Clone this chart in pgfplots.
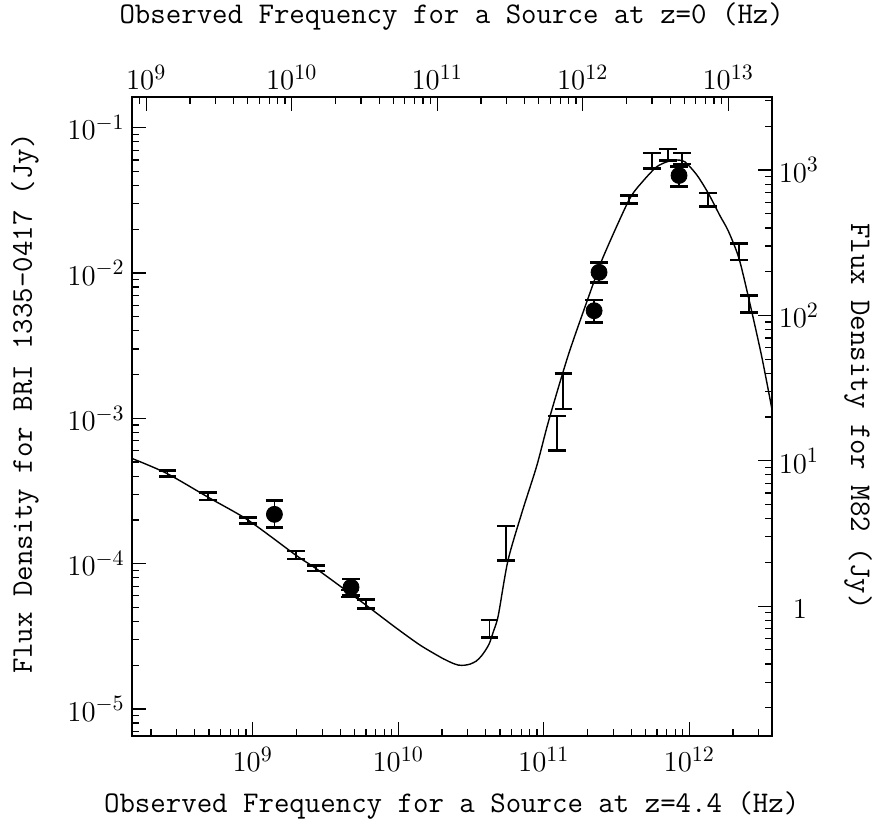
\documentclass[border=0pt]{standalone}
\usepackage{pgfplots}
\pgfplotsset{compat=1.18}
\usepackage{pgfplotstable}

\pgfplotstableread{
x y lo hi
2.60e8 4.156e-4 3.964e-4 4.358e-4
4.95e8 2.90e-4 2.74e-4 3.076e-4
9.28e8 1.99e-4 1.894e-4 2.083e-4
1.975e9 1.15e-4 1.075e-4 1.221e-4
2.71e9 9.28e-5 8.895e-5 9.672e-5
4.66e9 6.23e-5 5.891e-5 6.580e-5
5.98e9 5.27e-5 4.909e-5 5.660e-5
4.23e10 3.57e-5 3.110e-5 4.090e-5
5.48e10 1.38e-4 1.047e-4 1.815e-4
1.228e11 7.88e-4 5.984e-4 1.037e-3
1.364e11 1.54e-3 1.159e-3 2.040e-3
3.86e11 3.22e-2 3.018e-2 3.425e-2
5.53e11 5.93e-2 5.254e-2 6.696e-2
7.12e11 6.5e-2 5.928e-2 7.135e-2
8.92e11 6.14e-2 5.625e-2 6.696e-2
1.340e12 3.19e-2 2.859e-2 3.553e-2
2.20e12 1.40e-2 1.229e-2 1.601e-2
2.58e12 6.13e-3 5.346e-3 7.023e-3
}\mzdata

\pgfplotstableread{
x y lo hi
1.41e9 2.184e-4 1.778e-4 2.709e-4
4.74e9 6.879e-5 6.032e-5 7.834e-5
2.22e11 5.502e-3 4.577e-3 6.520e-3
2.40e11 1.011e-2 8.575e-3 1.177e-2
8.51e11 4.688e-2 3.926e-2 5.408e-2
}\bridata

\pgfplotsset{
  myaxis/.style={
    scale only axis, width=320pt, height=319.65pt,
    tick align=inside, major tick length=7pt, minor tick length=3.5pt,
    every tick/.style={black, line width=0.6pt},
    axis line style={line width=0.8pt},
    tick label style={font=\fontsize{15}{17}\selectfont},
    label style={font=\fontsize{15}{18}\selectfont\ttfamily},
  },
  ebars/.style={error bars/.cd, y dir=both, y explicit,
    error bar style={line width=0.85pt, draw=black, solid},
    error mark options={rotate=90, line width=1.35pt, mark size=4.4pt, draw=black}},
}

\begin{document}
\begin{tikzpicture}
\begin{axis}[myaxis,
  xmode=log, ymode=log,
  xmin=1.474e8, xmax=3.690e12, ymin=6.516e-6, ymax=0.1633,
  xtick pos=left, ytick pos=left,
  xticklabel style={yshift=-2pt},
  xlabel={Observed Frequency for a Source at z=4.4 (Hz)},
  ylabel={Flux Density for BRI 1335-0417 (Jy)},
  xlabel style={at={(axis description cs:0.5,-0.108)}, anchor=center},
  ylabel style={at={(axis description cs:-0.167,0.52)}, anchor=center},
]
\addplot[black, line width=0.7pt, smooth, tension=0.45] coordinates {
(1.474e8,5.305e-4) (2.564e8,4.182e-4) (4.953e8,2.859e-4) (9.284e8,1.995e-4)
(1.975e9,1.146e-4) (2.710e9,9.284e-5) (4.663e9,6.247e-5) (5.913e9,5.246e-5)
(9.766e9,3.587e-5) (1.412e10,2.753e-5) (1.938e10,2.281e-5)
(2.133e10,2.169e-5) (2.347e10,2.073e-5) (2.581e10,2.006e-5)
(2.840e10,1.999e-5) (3.124e10,2.038e-5) (3.437e10,2.135e-5)
(3.718e10,2.307e-5) (3.962e10,2.517e-5) (4.227e10,2.818e-5)
(4.504e10,3.400e-5) (4.872e10,4.400e-5) (5.678e10,1.050e-4)
(7.124e10,2.290e-4) (8.952e10,4.700e-4) (1.081e11,9.595e-4) (1.476e11,2.728e-3)
(2.098e11,7.484e-3) (2.568e11,1.295e-2) (3.858e11,3.180e-2) (4.816e11,4.291e-2)
(5.936e11,5.348e-2) (6.944e11,5.797e-2) (7.987e11,5.992e-2) (9.333e11,5.819e-2)
(1.128e12,4.725e-2) (1.353e12,3.535e-2) (1.628e12,2.474e-2) (1.857e12,1.943e-2)
(2.199e12,1.257e-2) (2.618e12,6.107e-3) (3.150e12,2.659e-3) (3.690e12,1.176e-3)
};
\addplot[black, only marks, mark=text, text mark={}, ebars] table[x=x, y=y,
  y error plus expr=\thisrow{hi}-\thisrow{y},
  y error minus expr=\thisrow{y}-\thisrow{lo}] {\mzdata};
\addplot[black, only marks, mark=*, mark size=4pt, ebars] table[x=x, y=y,
  y error plus expr=\thisrow{hi}-\thisrow{y},
  y error minus expr=\thisrow{y}-\thisrow{lo}] {\bridata};
\end{axis}

\begin{axis}[myaxis,
  xmode=log, xmin=7.96e8, xmax=1.993e13, ymin=0, ymax=1,
  axis x line*=top, axis y line=none,
  xlabel={Observed Frequency for a Source at z=0 (Hz)},
  xlabel style={at={(axis description cs:0.5,1.1247)}, anchor=center},
]
\end{axis}

\begin{axis}[myaxis,
  ymode=log, ymin=0.1277, ymax=3199, xmin=0, xmax=1,
  axis y line*=right, axis x line=none,
  ytick={1,10,100,1000},
  yticklabels={$\phantom{0}1\phantom{^{0}}$,$10^{1}$,$10^{2}$,$10^{3}$},
  minor ytick={0.2,0.3,0.4,0.5,0.6,0.7,0.8,0.9,2,3,4,5,6,7,8,9,20,30,40,50,60,70,80,90,200,300,400,500,600,700,800,900,2000,3000},
  ylabel={Flux Density for M82 (Jy)},
  ylabel style={at={(axis description cs:1.135,0.5)}, anchor=center, rotate=180},
]
\end{axis}
\pgfresetboundingbox
\useasboundingbox (-65.85pt,-45.5pt) rectangle (372.15pt,368pt);
\end{tikzpicture}
\end{document}
